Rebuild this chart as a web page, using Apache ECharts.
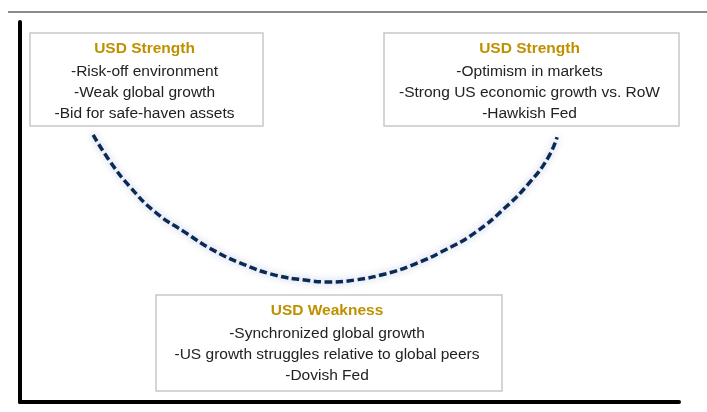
<!DOCTYPE html>
<html>
<head>
<meta charset="utf-8">
<script src="https://cdn.jsdelivr.net/npm/echarts@6/dist/echarts.min.js"></script>
<style>
  html, body { margin: 0; padding: 0; background: #fff; }
  #chart { width: 707px; height: 412px; }
</style>
</head>
<body>
<div id="chart"></div>
<script>
// smile curve (axis units 0-100)
var curveX = [11.1, 13.7, 16.7, 20.5, 25.0, 29.6, 34.1, 38.7, 43.2, 47.0, 50.8, 55.4, 59.9, 64.5, 69.0, 73.6, 77.4, 80.1, 81.5];
var curveY = [70.3, 63.2, 56.6, 50.0, 44.7, 39.7, 36.1, 33.4, 32.1, 31.6, 32.1, 33.7, 36.3, 40.0, 44.5, 51.1, 57.9, 64.2, 69.7];

// text boxes
var boxTitles = ['USD Strength', 'USD Strength', 'USD Weakness'];
var boxLines = [
    ['-Risk-off environment', '-Weak global growth', '-Bid for safe-haven assets'],
    ['-Optimism in markets', '-Strong US economic growth vs. RoW', '-Hawkish Fed'],
    ['-Synchronized global growth', '-US growth struggles relative to global peers', '-Dovish Fed']
];

var chartDom = document.getElementById('chart');
var myChart = echarts.init(chartDom);

// box frames (x, y, w, h) in pixels
var frames = [
    [30, 33, 233, 93],
    [384, 33, 295, 93],
    [156, 295, 346, 96]
];
var font = '"Liberation Sans", Arial, sans-serif';

var elements = [
    {
        type: 'line',
        shape: { x1: 8, y1: 12, x2: 707, y2: 12 },
        style: { stroke: '#8c8c8c', lineWidth: 2 }
    }
];

frames.forEach(function (f, i) {
    var cx = f[0] + f[2] / 2;
    elements.push({
        type: 'rect',
        shape: { x: f[0], y: f[1], width: f[2], height: f[3] },
        style: { fill: '#fff', stroke: '#c8c8c8', lineWidth: 1.5 },
        z: 10
    });
    elements.push({
        type: 'text',
        x: cx - 2,
        y: f[1] + 16,
        style: {
            text: boxTitles[i],
            fill: '#bf9000',
            fontFamily: font,
            fontSize: 15.5,
            fontWeight: 'bold',
            align: 'center',
            verticalAlign: 'middle'
        },
        z: 11
    });
    boxLines[i].forEach(function (t, j) {
        elements.push({
            type: 'text',
            x: cx - 2,
            y: f[1] + 38.5 + j * 21.3,
            style: {
                text: t,
                fill: '#222',
                fontFamily: font,
                fontSize: 15.5,
                align: 'center',
                verticalAlign: 'middle'
            },
            z: 11
        });
    });
});

var option = {
    animation: false,
    grid: {
        left: 20,
        right: 28,
        top: 22,
        bottom: 10
    },
    xAxis: {
        type: 'value',
        min: 0,
        max: 100,
        axisLine: { show: true, onZero: false, lineStyle: { color: '#000', width: 4 } },
        axisTick: { show: false },
        axisLabel: { show: false },
        splitLine: { show: false }
    },
    yAxis: {
        type: 'value',
        min: 0,
        max: 100,
        axisLine: { show: true, onZero: false, lineStyle: { color: '#000', width: 4 } },
        axisTick: { show: false },
        axisLabel: { show: false },
        splitLine: { show: false }
    },
    series: [
        {
            type: 'line',
            data: curveX.map(function (x, i) { return [x, curveY[i]]; }),
            smooth: true,
            symbol: 'none',
            lineStyle: {
                color: '#0a2a55',
                width: 3.5,
                type: [7.5, 3.5],
                shadowColor: 'rgba(70,100,160,0.45)',
                shadowBlur: 7
            }
        }
    ],
    graphic: { elements: elements }
};

option && myChart.setOption(option);
</script>
</body>
</html>
